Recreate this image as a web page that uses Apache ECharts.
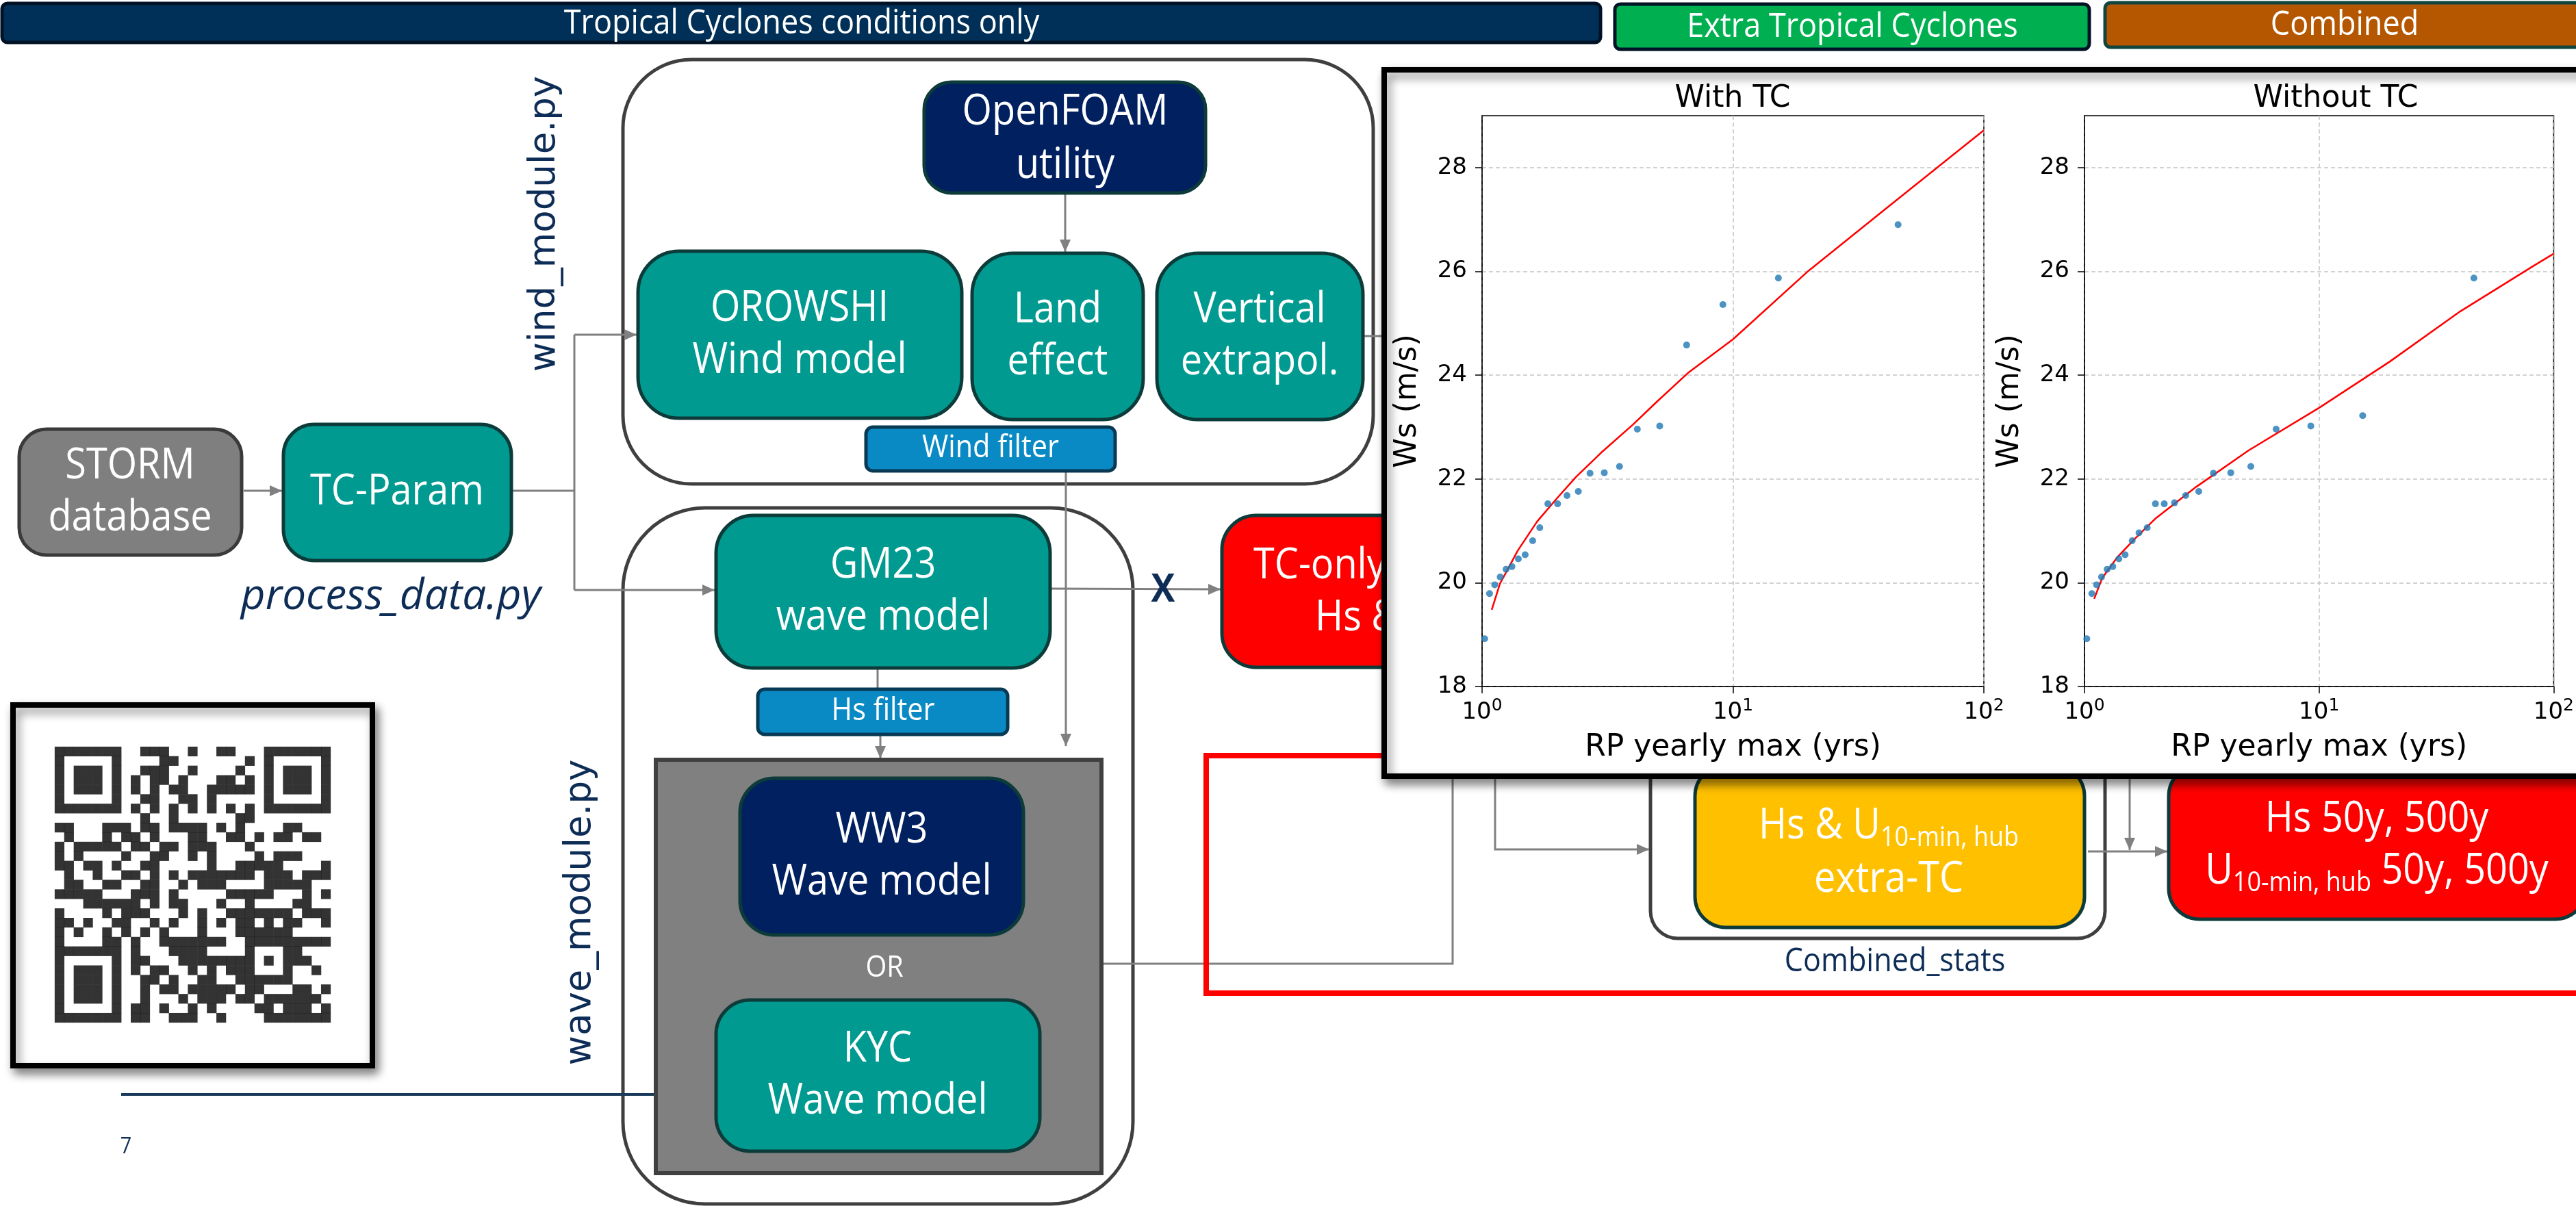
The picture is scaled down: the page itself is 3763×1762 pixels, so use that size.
<!DOCTYPE html>
<html>
<head>
<meta charset="utf-8">
<title>TC workflow</title>
<script src="https://cdn.jsdelivr.net/npm/echarts@6/dist/echarts.min.js"></script>
<style>
  html, body { margin: 0; padding: 0; background: #fff; }
  #main { width: 3763px; height: 1762px; }
</style>
</head>
<body>
<div id="main"></div>
<script>
// values
var rpWithTC = [1.024, 1.071, 1.123, 1.181, 1.246, 1.315, 1.395, 1.485, 1.591, 1.698, 1.829, 2.0, 2.18, 2.419, 2.693, 3.07, 3.53, 4.158, 5.105, 6.535, 9.12, 15.17, 45.5];
var wsWithTC = [18.92, 19.79, 19.96, 20.11, 20.26, 20.31, 20.46, 20.54, 20.81, 21.06, 21.52, 21.52, 21.68, 21.76, 22.11, 22.12, 22.24, 22.96, 23.02, 24.58, 25.36, 25.87, 26.90];
var fitRpWithTC = [1.093, 1.178, 1.388, 1.658, 2.0, 2.371, 2.99, 4.0, 4.955, 6.61, 10, 20, 40, 100];
var fitWsWithTC = [19.48, 19.98, 20.62, 21.18, 21.64, 22.04, 22.51, 23.05, 23.48, 24.04, 24.69, 26.01, 27.18, 28.72];

var rpNoTC = [1.023, 1.075, 1.126, 1.182, 1.249, 1.320, 1.402, 1.490, 1.597, 1.707, 1.851, 2.006, 2.188, 2.42, 2.70, 3.07, 3.545, 4.203, 5.116, 6.56, 9.22, 15.34, 45.7];
var wsNoTC = [18.92, 19.79, 19.96, 20.11, 20.26, 20.31, 20.46, 20.54, 20.81, 20.96, 21.06, 21.52, 21.52, 21.54, 21.68, 21.76, 22.11, 22.12, 22.24, 22.96, 23.02, 23.22, 25.87];
var fitRpNoTC = [1.10, 1.19, 1.374, 1.634, 2.0, 3.0, 5.01, 10, 20, 40, 83, 100];
var fitWsNoTC = [19.69, 20.09, 20.48, 20.84, 21.23, 21.85, 22.55, 23.37, 24.26, 25.23, 26.12, 26.34];

var yTicks = [18, 20, 22, 24, 26, 28];
var xMinorGrid = [2, 3, 4, 5, 6, 7, 8, 9, 20, 30, 40, 50, 60, 70, 80, 90];
var panelTitles = ['With TC', 'Without TC'];

// QR code modules, one string per row
var qrRows = [
  '11111110011100100110001111111',
  '10000010000110000000101000001',
  '10111010011100100001001011101',
  '10111010101101000110101011101',
  '10111010101011001111101011101',
  '10000010011001101000001000001',
  '11111110101010101010101111111',
  '00000000010010000001100000000',
  '11000111011011110101000011000',
  '01000101101000110011010110110',
  '10111110110110111000100000000',
  '10100001001100101000010111000',
  '11011010011000001001111100001',
  '01001001101010111111101110111',
  '01100110011001011100001111100',
  '11111000111010000011111000101',
  '00011111101011000100100001100',
  '10000101110001010011111110111',
  '11010011001010010101101011001',
  '10100101010100010001111110000',
  '10000110100111111100111111111',
  '11111110100011110000100011000',
  '10000010110001111111101011100',
  '10111010101100101011100010010',
  '10111010011010011001111110000',
  '10111010010110111110110001101',
  '10111010010001011101101111110',
  '10000010110100101000011011101',
  '11111110110011100100001111111'
];

var FF = '"Open Sans", sans-serif';
var MPL = '"DejaVu Sans", sans-serif';
var NAVY_TXT = '#0E2D56';
var TEAL = '#009A90';
var EDGE = '#0C3B39';
var DARKBLUE = '#002060';
var GREY = '#808080';
var SQUEEZE = 0.9; // slide font is narrower than Open Sans

function zip(a, b) {
  return a.map(function (v, i) { return [v, b[i]]; });
}

var qrData = [];
qrRows.forEach(function (row, r) {
  for (var c = 0; c < row.length; c++) {
    if (row[c] === '1') qrData.push([c, r]);
  }
});

// ---------- diagram pieces ----------
var g = [];
function rbox(x, y, w, h, r, fill, stroke, lw, z, shadow) {
  var st = { fill: fill, stroke: stroke, lineWidth: lw };
  if (shadow) {
    st.shadowBlur = 14; st.shadowColor = 'rgba(0,0,0,0.45)';
    st.shadowOffsetX = 5; st.shadowOffsetY = 8;
  }
  g.push({ type: 'rect', z: z, shape: { x: x, y: y, width: w, height: h, r: r }, style: st });
}
function txt(x, y, text, size, color, z, more) {
  more = more || {};
  var st = {
    text: text, fill: color, fontSize: size, fontFamily: more.family || FF,
    fontStyle: more.italic ? 'italic' : 'normal', fontWeight: more.bold ? 'bold' : 'normal',
    align: more.align || 'center', verticalAlign: 'middle',
    lineHeight: more.lineHeight || Math.round(size * 1.16)
  };
  if (more.rich) st.rich = more.rich;
  var sx = more.scaleX != null ? more.scaleX : (more.family ? 1 : SQUEEZE);
  g.push({ type: 'text', x: x, y: y, z: z, rotation: more.rotation || 0, scaleX: sx, scaleY: 1, style: st });
}
function path(points, z, arrow) {
  g.push({ type: 'polyline', z: z, shape: { points: points }, style: { stroke: GREY, lineWidth: 3, fill: null } });
  if (arrow) {
    var p1 = points[points.length - 2], p2 = points[points.length - 1];
    var dx = p2[0] - p1[0], dy = p2[1] - p1[1], len = Math.sqrt(dx * dx + dy * dy);
    var ux = dx / len, uy = dy / len, L = 18, W = 8;
    g.push({
      type: 'polygon', z: z,
      shape: { points: [p2, [p2[0] - ux * L - uy * W, p2[1] - uy * L + ux * W], [p2[0] - ux * L + uy * W, p2[1] - uy * L - ux * W]] },
      style: { fill: GREY }
    });
  }
}

// banners
rbox(3, 5, 2335, 57, 8, '#003057', '#001226', 5, 1);
txt(1171, 35, 'Tropical Cyclones conditions only', 50, '#fff', 2);
rbox(2359, 6, 693, 66, 8, '#00B050', '#001226', 5, 1);
txt(2706, 40, 'Extra Tropical Cyclones', 50, '#fff', 2);
rbox(3075, 4, 700, 65, 8, '#B45700', '#0E463F', 5, 1);
txt(3425, 37, 'Combined', 50, '#fff', 2);

// module outlines
rbox(910, 87, 1096, 620, 100, 'rgba(0,0,0,0)', '#3F3F3F', 5, 1);
rbox(910, 742, 745, 1017, 120, 'rgba(0,0,0,0)', '#3F3F3F', 5, 1);
txt(796, 327, 'wind_module.py', 53, NAVY_TXT, 2, { family: MPL, rotation: Math.PI / 2 });
txt(848, 1333, 'wave_module.py', 53, NAVY_TXT, 2, { family: MPL, rotation: Math.PI / 2 });

// wind module
var BOX_FS = 62, BOX_LH = 76;
rbox(1350, 120, 411, 162, 40, DARKBLUE, EDGE, 5, 3);
txt(1556, 203, 'OpenFOAM\nutility', BOX_FS, '#fff', 4, { lineHeight: 78 });
rbox(932, 367, 473, 244, 60, TEAL, EDGE, 5, 3);
txt(1168, 489, 'OROWSHI\nWind model', BOX_FS, '#fff', 4, { lineHeight: BOX_LH });
rbox(1420, 370, 250, 243, 60, TEAL, EDGE, 5, 3);
txt(1545, 491, 'Land\neffect', BOX_FS, '#fff', 4, { lineHeight: BOX_LH });
rbox(1690, 370, 301, 243, 60, TEAL, EDGE, 5, 3);
txt(1840, 491, 'Vertical\nextrapol.', BOX_FS, '#fff', 4, { lineHeight: BOX_LH });
rbox(1265, 624, 364, 64, 10, '#0A8AC4', '#083A55', 5, 3);
txt(1447, 655, 'Wind filter', 46, '#fff', 4);

// inputs
rbox(28, 627, 325, 184, 40, '#7F7F7F', '#3A3A3A', 5, 3);
txt(190, 719, 'STORM\ndatabase', BOX_FS, '#fff', 4, { lineHeight: BOX_LH });
rbox(414, 620, 333, 199, 45, TEAL, EDGE, 5, 3);
txt(580, 719, 'TC-Param', BOX_FS, '#fff', 4);
txt(571, 872, 'process_data.py', 62, NAVY_TXT, 4, { italic: true, scaleX: 1 });

// wave module
rbox(1046, 753, 488, 223, 55, TEAL, EDGE, 5, 3);
txt(1290, 864, 'GM23\nwave model', BOX_FS, '#fff', 4, { lineHeight: BOX_LH });
rbox(1107, 1007, 365, 66, 10, '#0A8AC4', '#083A55', 5, 3);
txt(1290, 1039, 'Hs filter', 46, '#fff', 4);
rbox(958, 1110, 651, 604, 0, '#808080', '#404040', 6, 3);
rbox(1081, 1137, 414, 229, 50, DARKBLUE, EDGE, 5, 4);
txt(1288, 1251, 'WW3\nWave model', BOX_FS, '#fff', 5, { lineHeight: BOX_LH });
txt(1292, 1414, 'OR', 44, '#fff', 5);
rbox(1046, 1461, 473, 221, 50, TEAL, EDGE, 5, 4);
txt(1282, 1571, 'KYC\nWave model', BOX_FS, '#fff', 5, { lineHeight: BOX_LH });

// TC-only output (partly under the plot panel)
rbox(1785, 753, 420, 222, 50, '#FF0000', EDGE, 5, 3);
var subRich = {
  m: { fontSize: BOX_FS, fontFamily: FF, fill: '#fff' },
  s: { fontSize: 40, fontFamily: FF, fill: '#fff', padding: [36, 0, 0, 0] }
};
txt(1831, 827, 'TC-only', BOX_FS, '#fff', 4, { align: 'left' });
txt(1921, 903, '{m|Hs & U}{s|10-min, hub}', BOX_FS, '#fff', 4, { align: 'left', rich: subRich });
txt(1699, 862, 'X', 58, NAVY_TXT, 4, { bold: true });

// combined stats
rbox(1762, 1104, 2100, 347, 0, 'rgba(0,0,0,0)', '#FF0000', 8, 3);
rbox(2411, 1080, 664, 291, 40, 'rgba(0,0,0,0)', '#3F3F3F', 5, 2);
rbox(2476, 1118, 569, 237, 45, '#FFC000', EDGE, 5, 3);
txt(2759, 1207, '{m|Hs & U}{s|10-min, hub}', BOX_FS, '#fff', 4, { rich: subRich });
txt(2759, 1285, 'extra-TC', BOX_FS, '#fff', 4);
txt(2768, 1405, 'Combined_stats', 48, NAVY_TXT, 4);
rbox(3168, 1118, 610, 225, 45, '#FF0000', EDGE, 5, 3);
txt(3472, 1197, 'Hs 50y, 500y', BOX_FS, '#fff', 4);
txt(3472, 1273, '{m|U}{s|10-min, hub}{m| 50y, 500y}', BOX_FS, '#fff', 4, { rich: subRich });

// connectors
path([[356, 717], [412, 717]], 2, true);
path([[747, 717], [839, 717]], 2, false);
path([[839, 489], [839, 862]], 2, false);
path([[839, 489], [930, 489]], 2, true);
path([[839, 862], [1044, 862]], 2, true);
path([[1556, 283], [1556, 368]], 2, true);
path([[1991, 491], [2040, 491]], 2, false);
path([[1557, 688], [1557, 1090]], 2, true);
path([[1282, 976], [1282, 1007]], 2, false);
path([[1286, 1073], [1286, 1108]], 2, true);
path([[1534, 860], [1783, 861]], 2, true);
path([[1609, 1408], [2122, 1408], [2122, 1120]], 2, false);
path([[2184, 1120], [2184, 1241], [2409, 1241]], 2, true);
path([[3111, 1120], [3111, 1242]], 2, true);
path([[3050, 1244], [3166, 1244]], 2, true);

// QR frame, footer
rbox(19, 1030, 525, 527, 0, '#fff', '#000', 8, 2, true);
g.push({ type: 'line', z: 2, shape: { x1: 177, y1: 1599, x2: 958, y2: 1599 }, style: { stroke: '#1A3A5C', lineWidth: 4 } });
txt(184, 1676, '7', 32, NAVY_TXT, 2);

// white panel holding the two plots
rbox(2022, 102, 1820, 1032, 0, '#fff', '#000', 8, 6, true);
txt(2531, 145, panelTitles[0], 44, '#000', 12, { family: MPL });
txt(3412, 145, panelTitles[1], 44, '#000', 12, { family: MPL });

// ---------- axes ----------
var dashed = { color: '#c4c4c4', type: [6, 4], width: 1.5 };
function xAxisFor(i) {
  return {
    type: 'log', logBase: 10, gridIndex: i, min: 1, max: 100, z: 10,
    name: 'RP yearly max (yrs)', nameLocation: 'middle', nameGap: 68, nameMoveOverlap: false,
    nameTextStyle: { fontFamily: MPL, fontSize: 44, color: '#000' },
    axisLine: { lineStyle: { color: '#000', width: 1.5 } },
    axisTick: { show: true, inside: false, length: 10, lineStyle: { color: '#000', width: 1.5 } },
    axisLabel: {
      margin: 16,
      formatter: function (v) { return '{b|10}{s|' + Math.round(Math.log10(v)) + '}'; },
      rich: {
        b: { fontFamily: MPL, fontSize: 34, color: '#000' },
        s: { fontFamily: MPL, fontSize: 25, color: '#000', padding: [0, 0, 20, 0] }
      }
    },
    splitLine: { show: true, lineStyle: dashed }
  };
}
function yAxisFor(i) {
  return {
    type: 'value', gridIndex: i, min: 18, max: 29, interval: 2, z: 10,
    name: 'Ws (m/s)', nameLocation: 'middle', nameGap: 86, nameRotate: 90, nameMoveOverlap: false,
    nameTextStyle: { fontFamily: MPL, fontSize: 44, color: '#000' },
    axisLine: { show: true, lineStyle: { color: '#000', width: 1.5 } },
    axisTick: { show: true, inside: false, length: 10, customValues: yTicks, lineStyle: { color: '#000', width: 1.5 } },
    axisLabel: { fontFamily: MPL, fontSize: 34, color: '#000', margin: 22, customValues: yTicks },
    splitLine: { show: true, lineStyle: dashed }
  };
}

var option = {
  animation: false,
  backgroundColor: '#fff',
  graphic: { elements: g },
  grid: [
    { left: 2165, top: 169, width: 733, height: 834, show: true, borderColor: '#000', borderWidth: 1.5, backgroundColor: 'rgba(0,0,0,0)', z: 10 },
    { left: 3045, top: 169, width: 734, height: 834, show: true, borderColor: '#000', borderWidth: 1.5, backgroundColor: 'rgba(0,0,0,0)', z: 10 },
    { left: 80, top: 1091, width: 403, height: 403, z: 3 }
  ],
  xAxis: [
    xAxisFor(0), xAxisFor(1),
    { type: 'value', gridIndex: 2, min: -0.5, max: 28.5, show: false }
  ],
  yAxis: [
    yAxisFor(0), yAxisFor(1),
    { type: 'value', gridIndex: 2, min: -0.5, max: 28.5, inverse: true, show: false }
  ],
  series: [0, 1].map(function (i) {
    return {
      type: 'line', xAxisIndex: i, yAxisIndex: i, data: [], z: 10, silent: true,
      markLine: {
        silent: true, symbol: ['none', 'none'], label: { show: false },
        lineStyle: dashed, emphasis: { disabled: true },
        data: xMinorGrid.map(function (v) { return { xAxis: v }; })
      }
    };
  }).concat([
    {
      type: 'line', xAxisIndex: 0, yAxisIndex: 0, data: zip(fitRpWithTC, fitWsWithTC),
      showSymbol: false, lineStyle: { color: '#ff0000', width: 2.5 }, z: 11
    },
    {
      type: 'scatter', xAxisIndex: 0, yAxisIndex: 0, data: zip(rpWithTC, wsWithTC),
      symbolSize: 10, itemStyle: { color: '#1f77b4' }, z: 12
    },
    {
      type: 'line', xAxisIndex: 1, yAxisIndex: 1, data: zip(fitRpNoTC, fitWsNoTC),
      showSymbol: false, lineStyle: { color: '#ff0000', width: 2.5 }, z: 11
    },
    {
      type: 'scatter', xAxisIndex: 1, yAxisIndex: 1, data: zip(rpNoTC, wsNoTC),
      symbolSize: 10, itemStyle: { color: '#1f77b4' }, z: 12
    },
    {
      type: 'scatter', xAxisIndex: 2, yAxisIndex: 2, data: qrData, symbol: 'rect',
      symbolSize: 14.2, itemStyle: { color: '#000' }, z: 4, silent: true
    }
  ])
};

var myChart = echarts.init(document.getElementById('main'));
myChart.setOption(option);
</script>
</body>
</html>
